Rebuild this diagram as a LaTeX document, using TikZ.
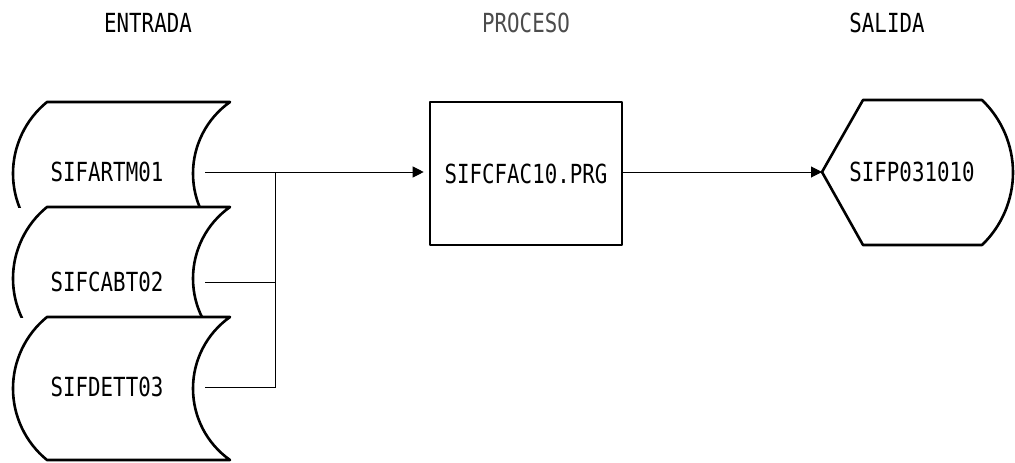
\documentclass[tikz,border=0pt]{standalone}
\usepackage{fontspec}
\usepackage{tikz}
\usetikzlibrary{arrows.meta}
\newfontfamily\sifmono[FakeStretch=0.79]{DejaVu Sans Mono}
\newcommand{\shapewidth}{2.6pt}
\newcommand{\storedpath}{(47,0) -- (230,0) .. controls (206.7,16.5) and (193,43) .. (193,71.5) .. controls (193,100) and (206.7,126.5) .. (230,143) -- (47,143) .. controls (25.5,125.5) and (13,99.2) .. (13,71.5) .. controls (13,43.8) and (25.5,17.5) .. (47,0) -- cycle}
\tikzset{lbl/.style={font=\sifmono\fontsize{26.3}{28}\selectfont, inner sep=0pt}}
\tikzset{outline/.style={draw, line width=\shapewidth, line join=round}}
\tikzset{flow/.style={line width=1pt}}
\tikzset{flowarrow/.style={flow, -{Triangle[length=11pt,width=11pt]}}}

\begin{document}
\begin{tikzpicture}[x=1pt, y=-1pt]
\useasboundingbox (0,0) rectangle (1015,463);

% headings
\node[lbl] (hin) at (148,23) {ENTRADA};
\node[lbl, text=black!70] (hproc) at (526,23) {PROCESO};
\node[lbl] (hout) at (887,23) {SALIDA};

% input files
\begin{scope}[shift={(0,102)}]
\clip (0,-10) rectangle (300,105);
\draw[outline] \storedpath;
\end{scope}
\begin{scope}[shift={(0,207)}]
\clip (0,-10) rectangle (300,110);
\draw[outline] \storedpath;
\end{scope}
\begin{scope}[shift={(0,317)}]
\draw[outline] \storedpath;
\end{scope}

\node[lbl] (art) at (107,172) {SIFARTM01};
\node[lbl] (cab) at (107,282) {SIFCABT02};
\node[lbl] (det) at (107,387) {SIFDETT03};
\coordinate (art-e) at (205,172);
\coordinate (cab-e) at (205,282);
\coordinate (det-e) at (205,387);
\coordinate (j1) at (275,172);

% process
\node[outline, lbl, minimum width=192pt, minimum height=143pt] (prg) at (526,173.5) {SIFCFAC10.PRG};

% output
\draw[outline] (822,172) -- (863,100) -- (982,100) .. controls (1001.7,118.8) and (1013,145.3) .. (1013,172.5) .. controls (1013,199.7) and (1001.7,226.2) .. (982,245) -- (863,245) -- cycle;
\node[lbl] (outp) at (912,172) {SIFP031010};
\coordinate (outp-w) at (822,172);

% connectors
\draw[flowarrow, shorten >=5pt] (art-e) -- (prg.west |- art-e);
\draw[flow] (cab-e) -- (cab-e -| j1);
\draw[flow] (det-e) -| (j1);
\draw[flowarrow] (prg.east |- outp-w) -- (outp-w);
\end{tikzpicture}
\end{document}
